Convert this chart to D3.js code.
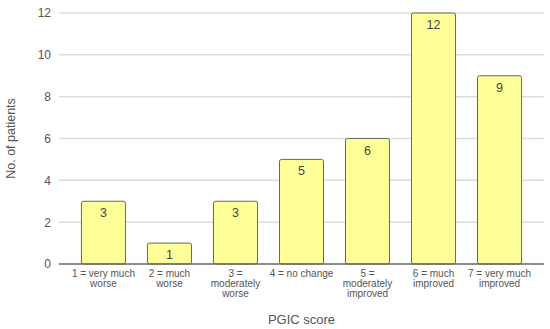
<!DOCTYPE html>
<html>
<head>
<meta charset="utf-8">
<script src="https://cdn.jsdelivr.net/npm/d3@7"></script>
<style>
  body { margin: 0; background: #fff; }
  text { font-family: "Liberation Sans", Arial, sans-serif; }
</style>
</head>
<body>
<svg id="chart"></svg>
<script>
const width = 550;
const height = 329;

// data
const categories = [
  ["1 = very much", "worse"],
  ["2 = much", "worse"],
  ["3 =", "moderately", "worse"],
  ["4 = no change"],
  ["5 =", "moderately", "improved"],
  ["6 = much", "improved"],
  ["7 = very much", "improved"]
];
const patients = [3, 1, 3, 5, 6, 12, 9];
const yTicks = [0, 2, 4, 6, 8, 10, 12];

const margin = { top: 13, bottom: 65, left: 59, right: 6 };

const svg = d3.select("svg#chart")
  .attr("width", width)
  .attr("height", height);

const x = d3.scaleBand()
  .domain(d3.range(patients.length))
  .range([margin.left, width - margin.right])
  .paddingInner(0.333)
  .paddingOuter(0.34);

const y = d3.scaleLinear()
  .domain([0, 12])
  .range([height - margin.bottom, margin.top]);

// grid lines
svg.append("g")
  .selectAll("line")
  .data(yTicks.slice(1))
  .enter()
  .append("line")
    .attr("x1", margin.left)
    .attr("x2", width - margin.right)
    .attr("y1", d => y(d))
    .attr("y2", d => y(d))
    .style("stroke", "#dcdcdc")
    .style("stroke-width", 1.5);

// y axis labels
const yAxis = svg.append("g")
  .attr("transform", "translate(" + margin.left + ",0)")
  .call(d3.axisLeft(y).tickValues(yTicks).tickSize(0).tickPadding(8));
yAxis.select(".domain").remove();
yAxis.selectAll("text")
  .style("font-size", "12px")
  .style("fill", "#555");

// bars
svg.append("g")
  .selectAll("rect")
  .data(patients)
  .enter()
  .append("rect")
    .attr("x", (d, i) => x(i))
    .attr("y", d => y(d))
    .attr("width", x.bandwidth())
    .attr("height", d => y(0) - y(d))
    .attr("rx", 2)
    .attr("ry", 2)
    .style("fill", "#ffff99")
    .style("stroke", "#666")
    .style("stroke-width", 1);

// value labels
svg.append("g")
  .selectAll("text")
  .data(patients)
  .enter()
  .append("text")
    .attr("x", (d, i) => x(i) + x.bandwidth() / 2)
    .attr("y", d => y(d) + 16)
    .attr("text-anchor", "middle")
    .style("font-size", "12.5px")
    .style("fill", "#444")
    .text(d => d);

// baseline
svg.append("line")
  .attr("x1", margin.left)
  .attr("x2", width - margin.right)
  .attr("y1", y(0))
  .attr("y2", y(0))
  .style("stroke", "#666")
  .style("stroke-width", 1.5);

// category labels
const catGroup = svg.append("g")
  .selectAll("text")
  .data(categories)
  .enter()
  .append("text")
    .attr("text-anchor", "middle")
    .attr("x", (d, i) => x(i) + x.bandwidth() / 2)
    .attr("y", y(0) + 13)
    .style("font-size", "10px")
    .style("fill", "#555");

catGroup.selectAll("tspan")
  .data(d => d)
  .enter()
  .append("tspan")
    .attr("x", function() { return d3.select(this.parentNode).attr("x"); })
    .attr("dy", (d, i) => i == 0 ? 0 : 10)
    .text(d => d);

// axis titles
svg.append("text")
  .attr("x", (margin.left + width - margin.right) / 2)
  .attr("y", 324)
  .attr("text-anchor", "middle")
  .style("font-size", "13px")
  .style("fill", "#555")
  .text("PGIC score");

svg.append("text")
  .attr("transform", "translate(15," + ((margin.top + y(0)) / 2) + ") rotate(-90)")
  .attr("text-anchor", "middle")
  .style("font-size", "12.5px")
  .style("fill", "#555")
  .text("No. of patients");
</script>
</body>
</html>
